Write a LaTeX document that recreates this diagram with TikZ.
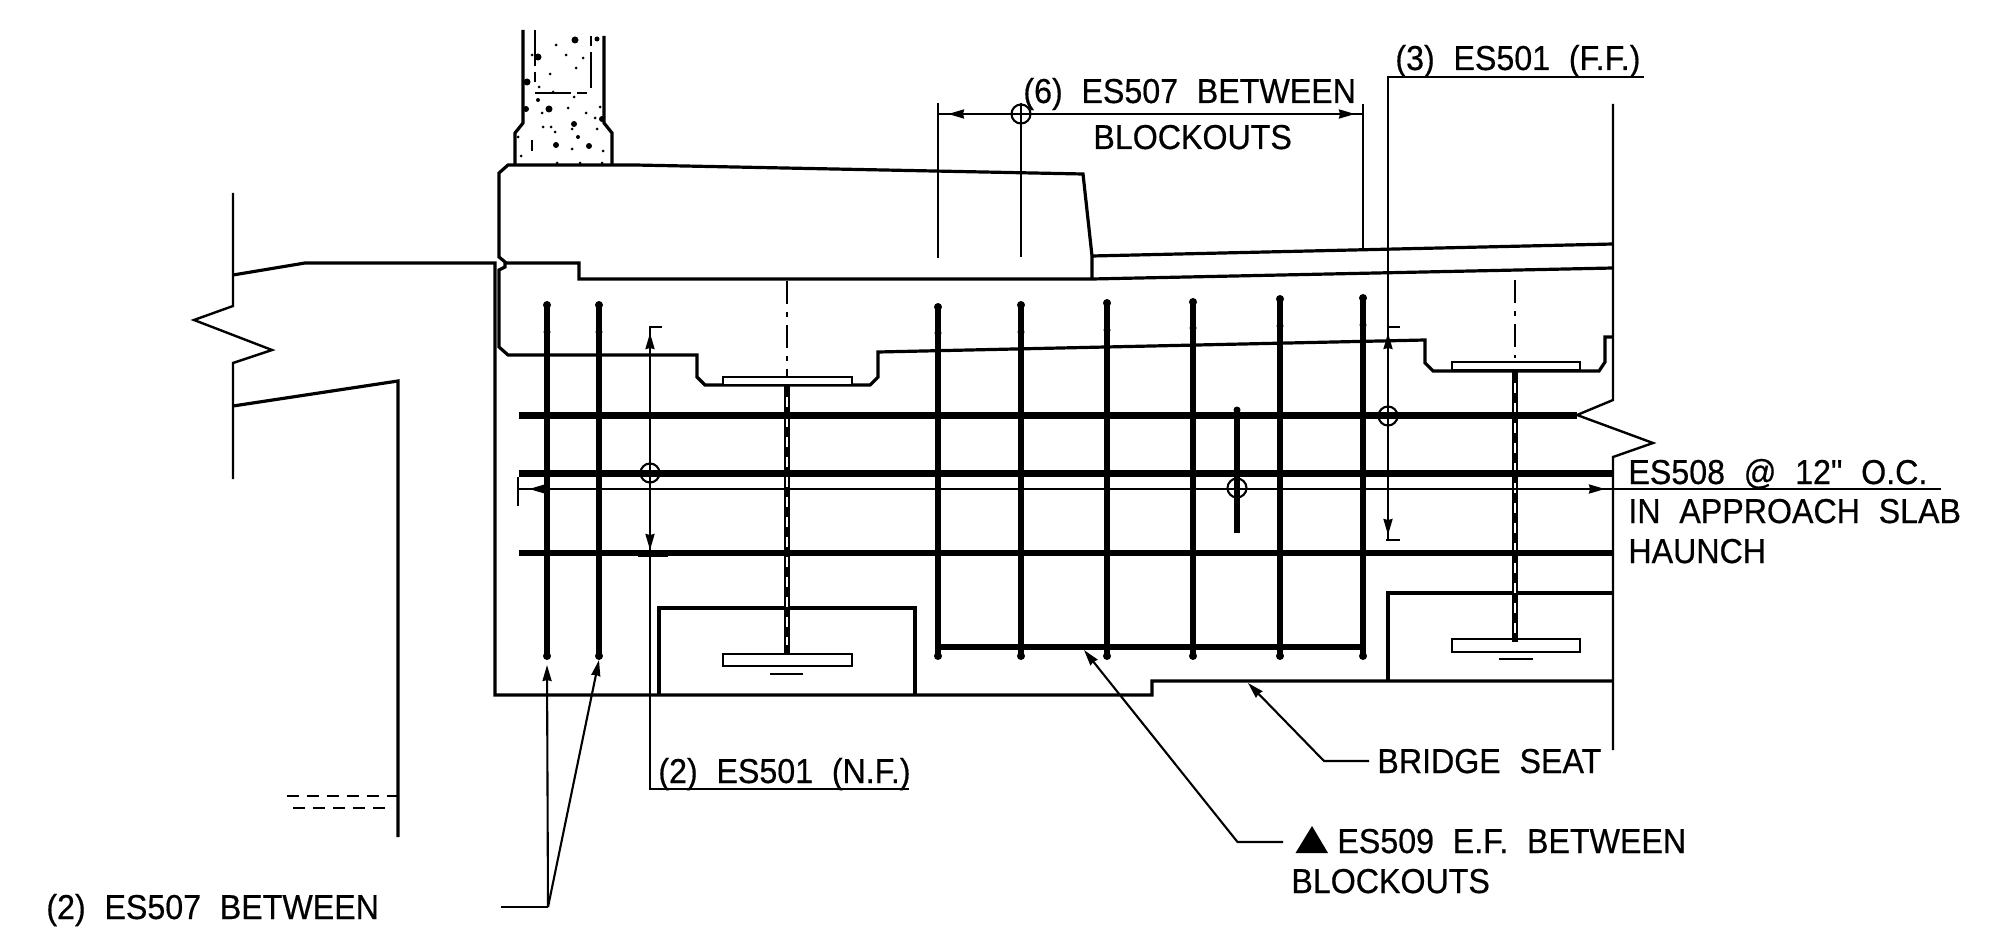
\documentclass[tikz,border=0pt]{standalone}
\usepackage{fontspec}
\setmainfont{Liberation Sans}[FakeStretch=0.93,WordSpace=2.1,FakeBold=0.5,Ligatures=TeXOff]
\usetikzlibrary{arrows.meta}

\begin{document}
\begin{tikzpicture}[x=0.5pt,y=0.5pt,yscale=-1,
  dimline/.style={line width=1.05pt},
  outline/.style={line width=1.6pt,line join=miter},
  rebar/.style={line width=3.2pt},
  tip/.style={-{Stealth[length=8pt,width=4.5pt,inset=0.5pt]}},
  label/.style={anchor=base west,inner sep=0pt,font=\fontsize{17.3}{18}\selectfont}]
\useasboundingbox (0,0) rectangle (1989,930);

%Shape: Column
\draw [outline] (523,30) -- (523,123) -- (515,133) -- (515,165) (604,36) -- (604,123) -- (612,133) -- (612,165);
\draw [dimline,line width=1.3pt,dash pattern={on 18pt off 3pt on 5pt off 3pt}] (535,30) -- (535,87) (535,93) -- (591,93) (591,88) -- (591,36);
\foreach \x/\y/\r in {575/40/3.5,556/45/1.5,597/39/2.5,538/57/3.5,532/55/1.5,566/55/1.5,583/58/1.5,576/68/1.5,550/74/1.5,527/82/3.5,539/87/1.5,553/92/1.5,538/100/2,574/97/1.5,526/109/3,549/109/3.5,542/113/1.5,568/108/1.5,586/113/1.5,600/107/1.5,595/118/1.5,602/119/3,574/124/3,543/127/1.5,551/127/1.5,555/132/1.5,572/129/1.5,597/129/1.5,518/137/1.5,578/137/2,556/145/3,572/149/1.5,589/146/3,603/151/1.5,521/156/1.5,557/163/1.5,580/163/1.5,602/163/1.5}
  \fill (\x,\y) circle (\r);
\draw [dimline] (532,140) -- (532,151);

%Shape: Approach slab
\draw [outline] (1092,256) -- (1083,174) -- (635,165) -- (508,165) -- (499,173) -- (499,257) -- (505,262) -- (505,267) -- (499,270) -- (499,347) -- (508,355) -- (697,355) -- (697,377) -- (705,385) -- (870,385) -- (878,377) -- (878,352) -- (1425,340) -- (1425,363) -- (1433,371) -- (1599,371) -- (1605,362) -- (1605,337) -- (1613,337);
\draw [outline] (505,263) -- (579,263) -- (579,279) -- (1092,279) -- (1613,268);
\draw [outline] (1092,256) -- (1613,244) (1092,256) -- (1092,279);
\draw [dimline,line width=1.3pt,fill=white] (723,377) rectangle (852,385);
\draw [dimline,line width=1.3pt,fill=white] (1452,362) rectangle (1580,370);
%Straight Lines
\draw [dimline,line width=1.3pt,dash pattern={on 11.5pt off 4pt on 2.5pt off 4pt}] (787,281) -- (787,377);
\draw [dimline,line width=1.3pt,dash pattern={on 11.5pt off 4pt on 2.5pt off 4pt}] (1515,280) -- (1515,358);

%Shape: Wall, seat and blockouts
\draw [outline] (233,275) -- (305,263) -- (495,263) -- (495,695) -- (1152,695) -- (1152,681) -- (1613,681);
\draw [outline] (233,406) -- (398,381) -- (398,837);
\draw [dimline,line width=1.2pt] (233,193) -- (233,306) -- (194,320) -- (272,350) -- (233,363) -- (233,479);
\draw [dimline,line width=1.2pt] (1613,104) -- (1613,400) -- (1577,415) -- (1653,443) -- (1613,457) -- (1613,750);
\draw [dimline,dashed,dash pattern={on 6pt off 4pt}] (287,796) -- (399,796) (293,808) -- (390,808);
\draw [outline] (659,695) -- (659,608) -- (915,608) -- (915,695);
\draw [outline] (1388,681) -- (1388,593) -- (1613,593);
\draw [dimline,line width=1.3pt] (723,654) rectangle (852,666);
\draw [dimline,line width=1.3pt] (1452,639) rectangle (1580,652);
\draw [dimline] (770,674) -- (803,674) (1499,659) -- (1533,659);

%Rebar
\foreach \x/\t/\b in {787/385/653,1515/371/642}{
  \draw [rebar] (\x,\t) -- (\x,\b);
  \draw [white,line width=0.6pt,dash pattern={on 5pt off 5pt}] (\x,\t+12) -- (\x,\b-8);
}
\foreach \x/\t/\m in {547/305/332,599/305/332,938/307/333,1021/305/332,1107/303/330,1193/302/328,1280/299/326,1363/298/325}{
  \draw [rebar] (\x,\t) -- (\x,656);
  \fill (\x,\t) circle (4) (\x,\m) circle (3.5) (\x,656) circle (4);
}
\draw [rebar] (938,647) -- (1363,647);
\draw [rebar] (519,415.5) -- (1577,415.5);
\draw [rebar] (519,473.5) -- (1613,473.5);
\draw [rebar] (519,553) -- (1613,553);
\draw [rebar] (1237,410) -- (1237,533);
\fill (1237,410) circle (3.5);

%Straight Lines
\draw [dimline] (938,103) -- (938,258) (1021,103) -- (1021,257) (1363,104) -- (1363,248);
\draw [dimline] (938,114) -- (1363,114);
\draw [dimline,tip] (964,114) -- (948,114);
\draw [dimline,tip] (1339,114) -- (1355,114);
\draw [dimline] (518,477) -- (518,506) (518,489) -- (1941,489);
\draw [dimline,tip] (545,489) -- (529,489);
\draw [dimline,tip] (1589,489) -- (1605,489);
\draw [dimline] (662,327) -- (650,327) -- (650,789) -- (909,789);
\draw [dimline,tip] (650,352) -- (650,333);
\draw [dimline,tip] (650,533) -- (650,550);
\draw [dimline] (638,556) -- (668,556);
\draw [dimline] (1644,77) -- (1388,77) -- (1388,540);
\draw [dimline] (1388,327) -- (1400,327) (1386,540) -- (1400,540);
\draw [dimline,tip] (1388,352) -- (1388,333);
\draw [dimline,tip] (1388,517) -- (1388,535);
\foreach \x/\y in {1021/114,650/473,1237/488,1388/416}
  \draw [dimline] (\x,\y) circle (9.5);

% Text Node
\node [label] (blockSix) at (1023,103) {(6) ES507 BETWEEN};
\node [label] (blockSixb) at (1093,149) {BLOCKOUTS};
\node [label] (farFace) at (1395,70) {(3) ES501 (F.F.)};
\node [label] (spacing) at (1628,484) {ES508 @ 12" O.C.};
\node [label] (spacingb) at (1628,523) {IN APPROACH SLAB};
\node [label] (spacingc) at (1628,563) {HAUNCH};
\node [label] (nearFace) at (658,783) {(2) ES501 (N.F.)};
\node [label] (seat) at (1377,773) {BRIDGE SEAT};
\node [label] (eachFace) at (1337,853) {ES509 E.F. BETWEEN};
\node [label] (eachFaceb) at (1291,893) {BLOCKOUTS};
\node [label] (blockTwo) at (46,919) {(2) ES507 BETWEEN};
\fill (1295.5,853) -- (1312,826) -- (1328,853) -- cycle;

%Curve Lines
\coordinate (seatTip) at (1248,683);
\coordinate (barTip) at (1084,650);
\coordinate (leftTip) at (547,665);
\coordinate (rightTip) at (599,660);
\draw [dimline,tip] (1369,761) -- (1324,761) -- (seatTip);
\draw [dimline,tip] (1283,842) -- (1237.5,842) -- (barTip);
\draw [dimline] (501,907) -- (548,907);
\draw [dimline,tip] (548,907) -- (leftTip);
\draw [dimline,tip] (548,907) -- (rightTip);

\end{tikzpicture}
\end{document}
